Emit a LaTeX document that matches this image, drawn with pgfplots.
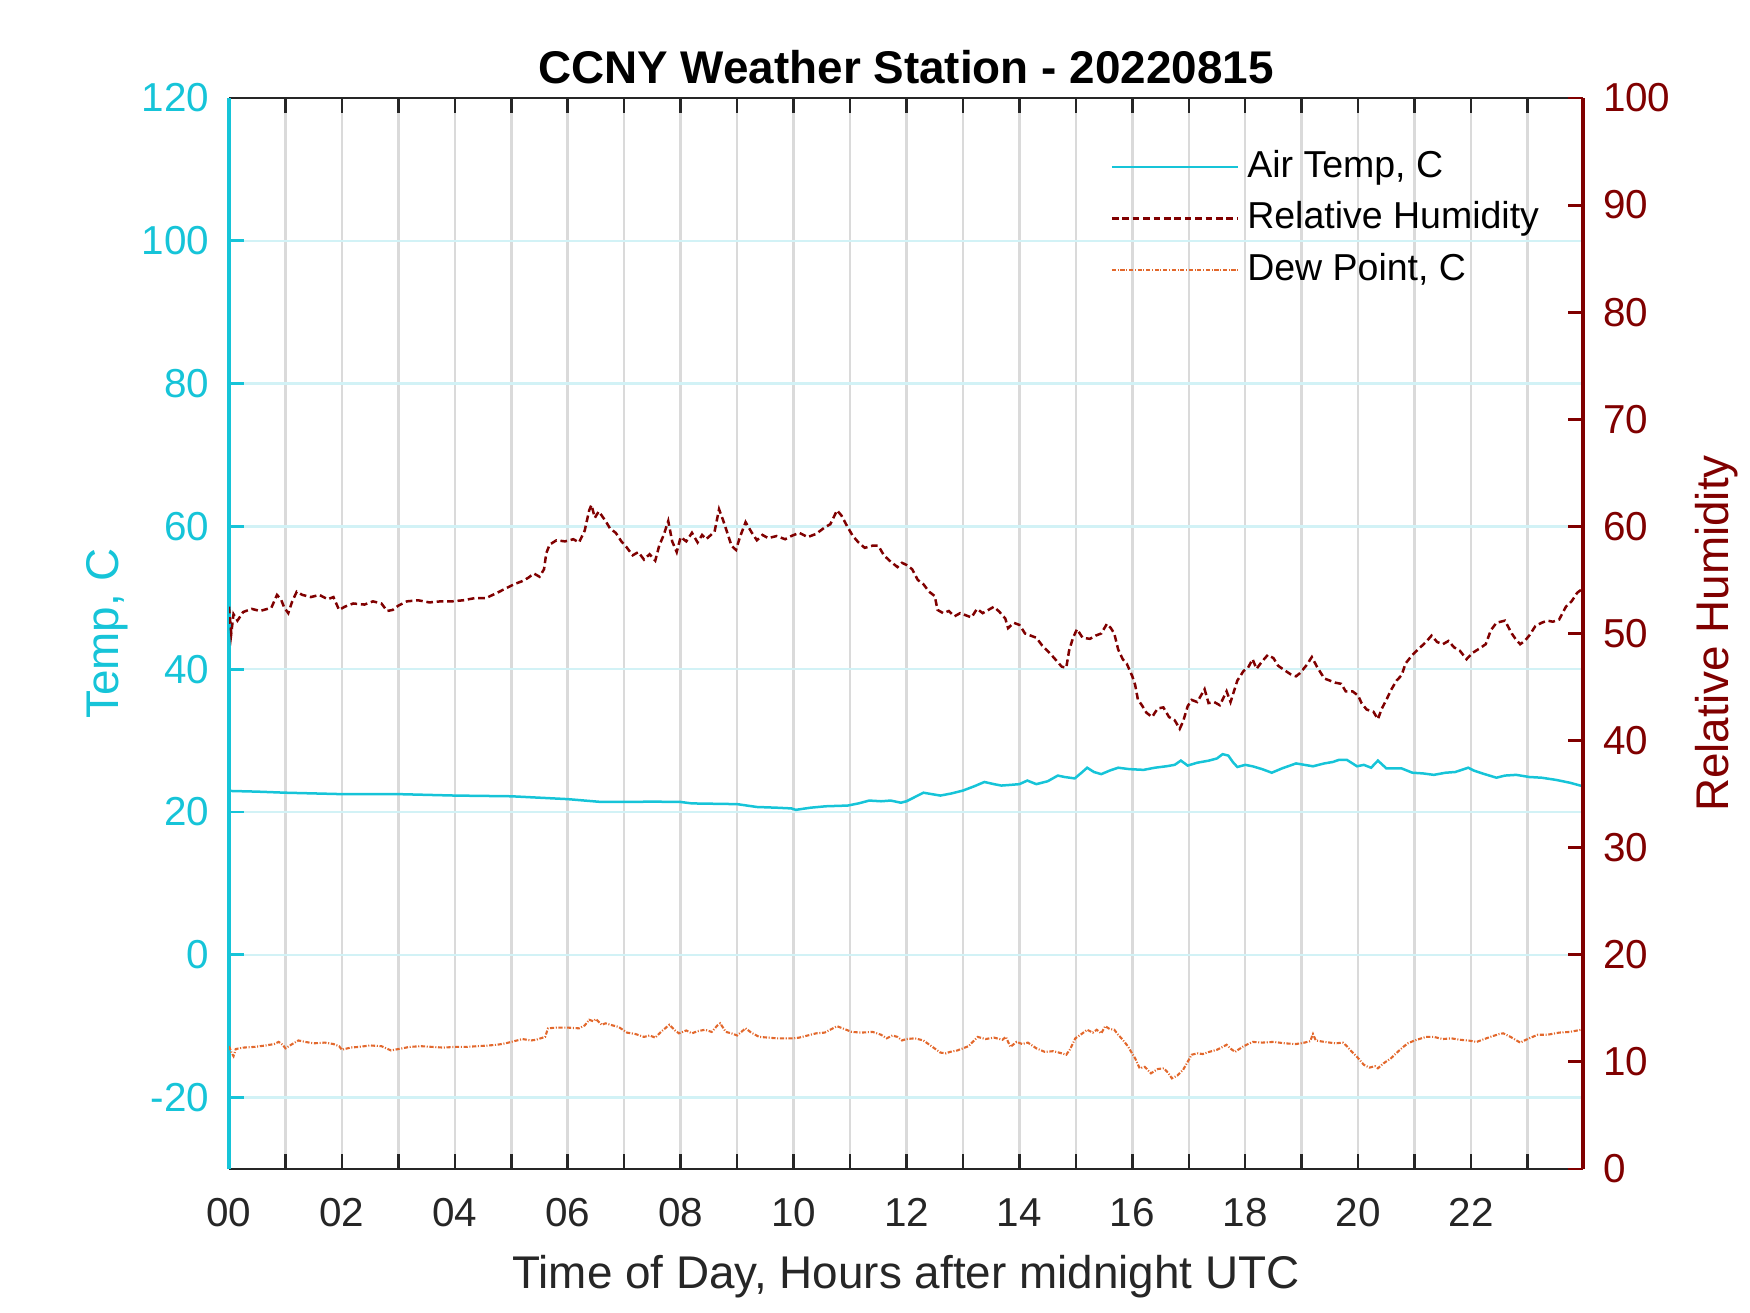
\documentclass[border=0pt]{standalone}
\usepackage{pgfplots}
\pgfplotsset{compat=1.18}
\usepackage{fontspec}
\setmainfont{Liberation Sans}
\definecolor{tcyan}{RGB}{22,196,216}
\definecolor{rhred}{RGB}{128,0,0}
\definecolor{dporange}{RGB}{226,104,44}
\definecolor{axgray}{RGB}{38,38,38}
\definecolor{xgridc}{RGB}{218,218,218}
\definecolor{ygridc}{RGB}{210,242,246}

\pgfplotstableread{
h T
0.00 22.95
0.50 22.85
1.00 22.70
1.50 22.60
2.00 22.50
2.50 22.50
3.00 22.50
3.50 22.40
4.00 22.30
4.50 22.25
5.00 22.20
5.50 22.00
6.00 21.80
6.30 21.60
6.60 21.40
7.00 21.40
7.50 21.45
8.00 21.40
8.20 21.20
8.60 21.15
9.00 21.10
9.35 20.70
9.70 20.60
9.96 20.50
10.04 20.30
10.30 20.60
10.57 20.80
10.96 20.90
11.15 21.20
11.34 21.60
11.55 21.50
11.72 21.60
11.90 21.30
12.00 21.50
12.15 22.10
12.30 22.70
12.45 22.50
12.60 22.30
12.80 22.60
13.00 23.00
13.20 23.60
13.38 24.20
13.55 23.90
13.68 23.70
13.85 23.80
14.00 23.90
14.14 24.40
14.30 23.90
14.50 24.30
14.68 25.10
14.80 24.90
14.98 24.70
15.10 25.50
15.20 26.20
15.32 25.60
15.45 25.30
15.60 25.80
15.75 26.20
15.95 26.00
16.20 25.90
16.40 26.20
16.60 26.40
16.75 26.60
16.86 27.20
16.98 26.50
17.15 26.90
17.36 27.20
17.50 27.50
17.60 28.10
17.70 27.90
17.78 27.00
17.86 26.30
18.00 26.60
18.13 26.40
18.30 26.00
18.47 25.50
18.65 26.10
18.90 26.80
19.05 26.60
19.20 26.40
19.40 26.80
19.55 27.00
19.66 27.30
19.80 27.30
19.90 26.80
19.98 26.40
20.10 26.60
20.23 26.20
20.35 27.20
20.50 26.10
20.77 26.10
20.96 25.50
21.15 25.40
21.34 25.20
21.55 25.50
21.72 25.60
21.95 26.20
22.05 25.80
22.20 25.40
22.45 24.80
22.60 25.10
22.80 25.20
23.03 24.90
23.25 24.80
23.50 24.50
23.75 24.10
23.98 23.60
}\temptable

\pgfplotstableread{
h D
0.00 -12.8
0.05 -13.8
0.08 -14.2
0.12 -13.2
0.25 -13.0
0.45 -12.9
0.65 -12.7
0.80 -12.5
0.88 -12.2
0.95 -12.6
1.00 -13.1
1.10 -12.6
1.23 -12.0
1.35 -12.2
1.50 -12.4
1.70 -12.3
1.85 -12.5
1.95 -12.8
2.00 -13.3
2.15 -13.0
2.30 -12.9
2.50 -12.7
2.70 -12.8
2.87 -13.4
3.00 -13.2
3.20 -12.9
3.40 -12.8
3.60 -12.9
3.80 -13.0
4.00 -12.9
4.20 -12.9
4.40 -12.8
4.60 -12.7
4.75 -12.6
4.90 -12.4
5.05 -12.1
5.20 -11.8
5.35 -12.0
5.44 -11.9
5.60 -11.5
5.65 -10.3
5.80 -10.2
6.00 -10.2
6.20 -10.3
6.30 -9.9
6.38 -9.1
6.45 -9.3
6.50 -9.0
6.60 -9.8
6.67 -9.6
6.80 -9.9
6.90 -10.1
7.05 -10.9
7.20 -11.1
7.35 -11.5
7.45 -11.3
7.55 -11.6
7.65 -10.8
7.80 -9.8
7.90 -10.6
7.97 -11.0
8.10 -10.6
8.20 -11.0
8.30 -10.7
8.43 -10.5
8.55 -10.8
8.65 -9.9
8.70 -9.6
8.80 -10.8
8.90 -11.0
9.00 -11.3
9.15 -10.3
9.25 -10.9
9.39 -11.5
9.55 -11.6
9.70 -11.7
9.85 -11.7
10.00 -11.7
10.10 -11.6
10.25 -11.3
10.40 -11.0
10.55 -10.9
10.77 -10.0
10.90 -10.4
11.03 -10.8
11.20 -10.9
11.40 -10.8
11.55 -11.2
11.65 -11.7
11.75 -11.3
11.84 -11.5
11.92 -12.0
12.00 -11.8
12.15 -11.7
12.30 -12.0
12.46 -12.9
12.60 -13.7
12.70 -13.8
12.77 -13.6
12.90 -13.4
13.00 -13.1
13.10 -12.8
13.26 -11.5
13.40 -11.8
13.55 -11.6
13.70 -11.9
13.76 -11.5
13.84 -12.9
13.95 -12.2
14.05 -12.5
14.15 -12.3
14.30 -13.1
14.45 -13.6
14.60 -13.5
14.75 -13.8
14.83 -14.0
14.90 -13.2
14.99 -11.7
15.10 -11.1
15.20 -10.5
15.30 -10.9
15.37 -10.5
15.45 -11.0
15.52 -10.0
15.60 -10.4
15.68 -10.5
15.75 -11.2
15.83 -11.9
15.92 -12.8
15.98 -13.6
16.05 -14.5
16.13 -15.9
16.22 -15.7
16.33 -16.6
16.45 -16.0
16.56 -15.9
16.64 -16.6
16.70 -17.3
16.80 -16.9
16.90 -16.1
16.98 -15.0
17.05 -14.0
17.15 -13.8
17.25 -13.9
17.36 -13.6
17.50 -13.3
17.60 -12.9
17.67 -12.6
17.75 -13.2
17.82 -13.6
17.95 -12.9
18.05 -12.5
18.13 -12.2
18.30 -12.3
18.50 -12.2
18.70 -12.4
18.90 -12.5
19.05 -12.3
19.15 -12.1
19.20 -11.1
19.25 -12.0
19.40 -12.2
19.60 -12.4
19.73 -12.3
19.80 -12.8
19.89 -13.6
19.98 -14.3
20.10 -15.4
20.20 -15.8
20.30 -15.6
20.35 -15.9
20.45 -15.2
20.58 -14.5
20.70 -13.6
20.80 -12.9
20.88 -12.4
21.00 -12.0
21.20 -11.5
21.34 -11.5
21.50 -11.8
21.65 -11.7
21.80 -11.9
21.95 -12.0
22.10 -12.2
22.20 -11.9
22.34 -11.5
22.50 -11.1
22.57 -11.0
22.70 -11.5
22.87 -12.3
23.00 -11.8
23.18 -11.2
23.35 -11.2
23.56 -10.9
23.75 -10.8
23.95 -10.5
}\dewtable

\pgfplotstableread{
h RH
0.00 52.5
0.04 50.0
0.08 51.8
0.15 51.2
0.25 52.0
0.40 52.3
0.55 52.1
0.75 52.4
0.85 53.6
0.92 53.2
0.98 52.4
1.05 51.9
1.12 53.0
1.20 53.9
1.30 53.6
1.45 53.4
1.60 53.6
1.75 53.2
1.85 53.4
1.95 52.2
2.05 52.5
2.20 52.8
2.40 52.7
2.55 53.0
2.70 52.8
2.80 52.1
2.90 52.2
3.00 52.6
3.15 53.0
3.35 53.1
3.55 52.9
3.75 53.0
3.95 53.0
4.15 53.1
4.35 53.3
4.55 53.3
4.75 53.8
4.90 54.2
5.05 54.6
5.20 54.9
5.30 55.2
5.40 55.6
5.50 55.3
5.58 56.0
5.62 57.5
5.68 58.3
5.80 58.7
5.95 58.6
6.10 58.8
6.20 58.5
6.30 59.6
6.38 61.5
6.42 62.0
6.48 60.8
6.55 61.4
6.67 60.5
6.75 59.8
6.85 59.4
6.95 58.6
7.05 58.0
7.15 57.3
7.25 57.6
7.35 56.9
7.45 57.4
7.55 56.8
7.62 58.2
7.70 59.2
7.78 60.5
7.85 58.6
7.93 57.6
8.00 59.0
8.10 58.6
8.20 59.4
8.30 58.5
8.38 59.2
8.45 58.8
8.60 59.5
8.68 61.6
8.75 60.6
8.82 59.5
8.90 58.2
8.98 57.8
9.05 59.0
9.15 60.4
9.25 59.5
9.35 58.7
9.45 59.2
9.55 58.9
9.70 59.1
9.85 58.8
9.96 59.1
10.10 59.4
10.25 59.0
10.40 59.3
10.55 59.9
10.65 60.2
10.77 61.5
10.85 61.0
10.95 60.0
11.05 59.1
11.15 58.5
11.26 58.0
11.40 58.2
11.50 58.2
11.60 57.3
11.70 56.8
11.84 56.2
11.92 56.6
12.00 56.4
12.10 56.0
12.20 55.0
12.30 54.6
12.40 53.9
12.50 53.5
12.55 52.2
12.65 51.9
12.75 52.1
12.85 51.6
12.95 51.9
13.05 51.7
13.15 51.5
13.25 52.3
13.35 51.9
13.45 52.2
13.55 52.5
13.65 52.0
13.75 51.4
13.80 50.5
13.90 51.0
14.00 50.8
14.10 50.0
14.20 49.8
14.30 49.6
14.40 48.9
14.55 48.1
14.65 47.5
14.75 46.9
14.83 46.8
14.88 48.4
14.95 49.6
15.02 50.4
15.12 49.6
15.25 49.5
15.35 49.8
15.45 50.0
15.55 50.9
15.62 50.5
15.68 50.0
15.75 48.5
15.83 47.6
15.90 47.2
16.00 46.0
16.05 45.2
16.10 43.8
16.17 43.3
16.25 42.6
16.35 42.2
16.45 43.0
16.55 43.1
16.65 42.2
16.75 41.9
16.84 41.1
16.90 41.8
16.98 43.2
17.05 43.8
17.15 43.6
17.28 44.8
17.35 43.5
17.45 43.6
17.55 43.3
17.67 44.6
17.74 43.6
17.86 45.6
17.97 46.5
18.05 46.8
18.13 47.6
18.20 46.7
18.30 47.4
18.40 48.0
18.50 47.7
18.58 47.0
18.66 46.7
18.80 46.2
18.90 46.0
18.97 46.3
19.08 47.0
19.18 47.8
19.27 46.9
19.40 45.8
19.50 45.6
19.60 45.4
19.70 45.3
19.78 44.6
19.90 44.6
20.00 44.2
20.06 43.5
20.15 42.9
20.27 42.7
20.35 42.0
20.42 43.0
20.50 43.8
20.58 44.7
20.68 45.6
20.77 46.1
20.84 47.2
20.96 48.0
21.10 48.7
21.20 49.2
21.30 49.8
21.40 49.2
21.50 49.0
21.60 49.3
21.70 48.7
21.80 48.4
21.92 47.6
22.03 48.2
22.15 48.6
22.26 49.0
22.35 50.3
22.45 51.0
22.60 51.2
22.72 50.0
22.80 49.4
22.87 49.0
22.95 49.3
23.03 49.8
23.14 50.7
23.25 51.0
23.35 51.2
23.45 51.1
23.56 51.3
23.68 52.5
23.78 53.0
23.88 53.8
23.98 54.2
}\rhtable

\pgfplotsset{
  tempstyle/.style={color=tcyan, line width=0.6pt, solid},
  rhstyle/.style={color=rhred, line width=0.6pt, dash pattern=on 1.6pt off 0.9pt},
  dewstyle/.style={color=dporange, line width=0.5pt, dash pattern=on 1pt off 0.4pt on 0.25pt off 0.4pt},
  common/.style={
    scale only axis,
    width=324.96pt, height=257.04pt,
    xmin=0, xmax=23.983,
    tick align=inside,
    major tick length=3.5pt,
    /pgf/number format/assume math mode=true,
    tick label style={font=\fontsize{9.7}{11}\selectfont},
  },
}

\begin{document}
\begin{tikzpicture}
\useasboundingbox (-54.96pt,-34.56pt) rectangle (365.04pt,280.56pt);
\begin{axis}[
  common,
  axis x line*=box,
  axis y line*=left,
  x axis line style={-, color=axgray, line width=0.7pt},
  y axis line style={-, color=tcyan, line width=0.8pt},
  ymin=-30, ymax=120,
  xtick={0,1,...,23},
  xticklabels={00,,02,,04,,06,,08,,10,,12,,14,,16,,18,,20,,22,},
  xtick style={color=axgray, line width=0.6pt},
  xticklabel style={anchor=base, yshift=-13.9pt, color=axgray},
  ytick={-20,0,20,40,60,80,100,120},
  yticklabels={-20,0,20,40,60,80,100,120},
  ytick pos=left,
  ytick style={color=tcyan, line width=0.7pt},
  yticklabel style={anchor=east, inner sep=0pt, xshift=-4.6pt, color=tcyan},
  xmajorgrids, ymajorgrids,
  x grid style={color=xgridc, line width=0.6pt},
  y grid style={color=ygridc, line width=0.6pt},
  every axis title shift=0pt,
  title={CCNY Weather Station - 20220815},
  title style={at={(axis description cs:0.5,1)}, anchor=base, yshift=3.4pt, font=\bfseries\fontsize{11}{13}\selectfont, color=black},
  xlabel={Time of Day, Hours after midnight UTC},
  xlabel style={at={(axis description cs:0.5,0)}, anchor=base, yshift=-28.7pt, font=\fontsize{11}{13}\selectfont, color=axgray},
  ylabel={Temp, C},
  ylabel style={at={(axis description cs:-0.0815,0.5)}, anchor=base, rotate=0, font=\fontsize{11}{13}\selectfont, color=tcyan},
]
\addplot[tempstyle] table[x=h, y=T] {\temptable};
\addplot[dewstyle] table[x=h, y=D] {\dewtable};
\end{axis}

\begin{axis}[
  common,
  axis x line=none,
  axis y line*=right,
  y axis line style={-, color=rhred, line width=0.8pt},
  ymin=0, ymax=100,
  ytick={0,10,...,100},
  yticklabels={0,10,20,30,40,50,60,70,80,90,100},
  ytick pos=right, yticklabel pos=right,
  ytick style={color=rhred, line width=0.7pt},
  yticklabel style={anchor=west, inner sep=0pt, xshift=4.6pt, color=rhred},
  ylabel={Relative Humidity},
  ylabel style={at={(axis description cs:1.1077,0.5)}, anchor=base, rotate=0, font=\fontsize{11}{13}\selectfont, color=rhred},
  legend cell align=left,
  legend image code/.code={\draw[#1] (0pt,0pt) -- (30.2pt,0pt);},
  legend style={at={(axis description cs:0.6505,0.9537)}, anchor=north west, draw=none, fill=none,
    font=\fontsize{9}{10.8}\selectfont, inner sep=0pt, row sep=3.3pt, column sep=2pt,
    nodes={inner sep=0pt, text height=7pt, text depth=2pt, text=black}},
]
\addlegendimage{tempstyle}
\addlegendentry{Air Temp, C}
\addplot[rhstyle] table[x=h, y=RH] {\rhtable};
\addlegendentry{Relative Humidity}
\addlegendimage{dewstyle}
\addlegendentry{Dew Point, C}
\end{axis}
\end{tikzpicture}
\end{document}
